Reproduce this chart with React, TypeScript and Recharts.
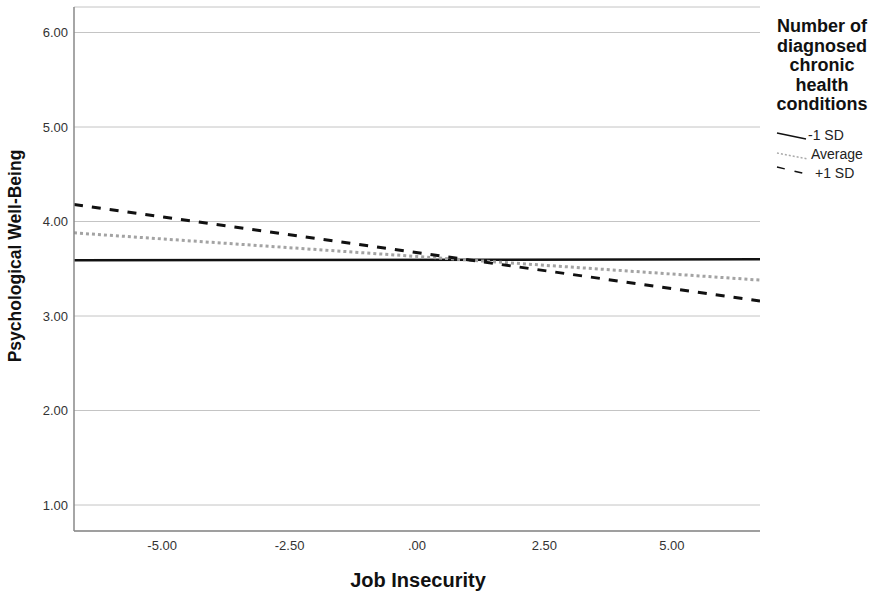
import React from "react";
import {
  LineChart,
  Line,
  XAxis,
  YAxis,
  CartesianGrid,
  Legend,
  Label,
} from "recharts";

// job insecurity range shown on the x axis (ends of the plotted lines)
const jobInsecurity = [-6.73, 6.73];
// predicted psychological well-being at each end, by chronic condition level
const minusOneSd = [3.59, 3.6];
const average = [3.88, 3.38];
const plusOneSd = [4.18, 3.16];

const xTicks = [-5, -2.5, 0, 2.5, 5];
const yTicks = [1, 2, 3, 4, 5, 6];
const legendTitle = ["Number of", "diagnosed", "chronic", "health", "conditions"];
const seriesNames = ["-1 SD", "Average", "+1 SD"];

const data = jobInsecurity.map((x, i) => ({
  x,
  low: minusOneSd[i],
  avg: average[i],
  high: plusOneSd[i],
}));

const FONT = "'Liberation Sans', Arial, sans-serif";

const fmt = (v: number) => (v === 0 ? ".00" : v.toFixed(2));

function LegendBox() {
  return (
    <svg width={110} height={195} style={{ display: "block" }}>
      {legendTitle.map((t, i) => (
        <text
          key={t}
          x={52}
          y={32 + i * 19.5}
          textAnchor="middle"
          fontFamily={FONT}
          fontWeight="bold"
          fontSize={18}
          fill="#111"
        >
          {t}
        </text>
      ))}
      <line x1={7} y1={133} x2={36} y2={139} stroke="#111" strokeWidth={1.5} />
      <line x1={7} y1={153} x2={38} y2={159} stroke="#aaa" strokeWidth={1.5} strokeDasharray="2 2" />
      <line x1={7} y1={167} x2={36} y2={174} stroke="#111" strokeWidth={1.5} strokeDasharray="8 10" />
      {seriesNames.map((n, i) => (
        <text
          key={n}
          x={[38, 41, 45][i]}
          y={140 + i * 19}
          fontFamily={FONT}
          fontSize={14}
          fill="#222"
        >
          {n}
        </text>
      ))}
    </svg>
  );
}

export default function App() {
  return (
    <div style={{ position: "absolute", left: 0, top: 0, background: "#fff" }}>
      <LineChart
        width={877}
        height={595}
        data={data}
        margin={{ top: 7, right: 117, bottom: 23, left: 0 }}
      >
        <CartesianGrid vertical={false} stroke="#c4c4c4" strokeWidth={1} />
        <XAxis
          dataKey="x"
          type="number"
          domain={[-6.73, 6.73]}
          ticks={xTicks}
          tickFormatter={fmt}
          allowDataOverflow
          height={41}
          tickSize={0}
          tickMargin={10}
          stroke="#888"
          strokeWidth={1.5}
          tick={{ fill: "#333", fontSize: 13, fontFamily: FONT }}
        >
          <Label
            content={() => (
              <text
                x={418}
                y={587}
                textAnchor="middle"
                fontFamily={FONT}
                fontWeight="bold"
                fontSize={20}
                fill="#111"
              >
                Job Insecurity
              </text>
            )}
          />
        </XAxis>
        <YAxis
          type="number"
          domain={[0.725, 6.27]}
          ticks={yTicks}
          tickFormatter={(v: number) => v.toFixed(2)}
          allowDataOverflow
          width={74}
          tickSize={0}
          tickMargin={6}
          stroke="#888"
          strokeWidth={1.5}
          tick={{ fill: "#333", fontSize: 13, fontFamily: FONT }}
        >
          <Label
            content={() => (
              <text
                x={21}
                y={256}
                transform="rotate(-90 21 256)"
                textAnchor="middle"
                fontFamily={FONT}
                fontWeight="bold"
                fontSize={17.5}
                fill="#111"
              >
                Psychological Well-Being
              </text>
            )}
          />
        </YAxis>
        <Legend
          layout="horizontal"
          verticalAlign="middle"
          align="center"
          wrapperStyle={{ position: "absolute", left: 770, top: 0, width: 110, height: 195 }}
          content={() => <LegendBox />}
        />
        <Line
          dataKey="low"
          stroke="#111"
          strokeWidth={2.5}
          dot={false}
          activeDot={false}
          isAnimationActive={false}
        />
        <Line
          dataKey="avg"
          stroke="#a3a3a3"
          strokeWidth={3}
          strokeDasharray="3 3"
          dot={false}
          activeDot={false}
          isAnimationActive={false}
        />
        <Line
          dataKey="high"
          stroke="#111"
          strokeWidth={3}
          strokeDasharray="9 9"
          dot={false}
          activeDot={false}
          isAnimationActive={false}
        />
      </LineChart>
    </div>
  );
}
